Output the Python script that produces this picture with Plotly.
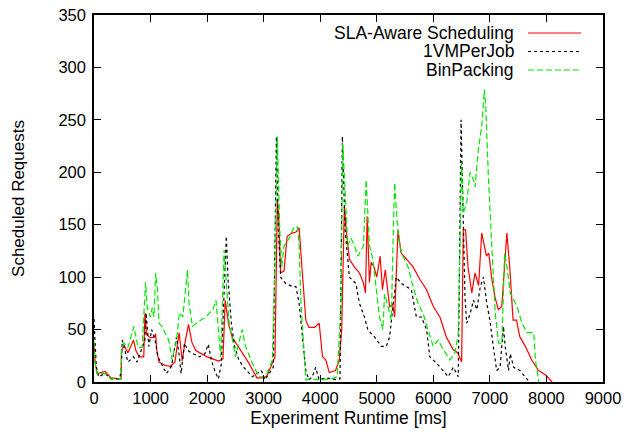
import plotly.graph_objects as go

# SLA-Aware Scheduling
sla_x = [0, 20, 60, 195, 230, 300, 450, 480, 486, 530, 600, 700, 740, 800, 880, 900, 930, 1000, 1070, 1090,
         1110, 1150, 1250, 1350, 1430, 1505, 1560, 1600, 1671, 1730, 1800, 1900, 2000, 2100, 2200, 2280, 2320,
         2380, 2450, 2560, 2738, 2880, 3000, 3060, 3150, 3200, 3242, 3270, 3300, 3360, 3415, 3500, 3570, 3627,
         3680, 3745, 3800, 3900, 3982, 4040, 4100, 4160, 4270, 4338, 4380, 4427, 4460, 4516, 4600, 4693, 4760,
         4800, 4830, 4870, 4900, 4950, 5000, 5060, 5100, 5150, 5227, 5280, 5316, 5375, 5430, 5520, 5640, 5760,
         5880, 6000, 6116, 6230, 6350, 6430, 6500, 6530, 6570, 6613, 6680, 6738, 6800, 6856, 6900, 6940, 6980,
         7035, 7090, 7150, 7210, 7260, 7300, 7350, 7410, 7470, 7530, 7627, 7740, 7860, 7980, 8100]
sla_y = [37, 18, 8, 10, 8, 4, 3, 3, 30, 35, 28, 40, 30, 24, 24, 66, 45, 42, 43, 46,
         30, 19, 16, 15, 19, 47, 20, 35, 55, 38, 30, 27, 24, 22, 20, 22, 78,
         55, 42, 33, 18, 4, 4, 6, 18, 24, 174, 152, 104, 106, 139, 142, 143, 147,
         107, 59, 52, 52, 56, 24, 21, 9, 11, 21, 50, 168, 145, 117, 110, 104, 95,
         85, 158, 95, 114, 110, 100, 120, 88, 107, 72, 74, 62, 145, 123, 117, 110, 98,
         88, 72, 62, 43, 31, 28, 19, 145, 145, 110, 85, 104, 92, 142, 130, 120, 123,
         98, 81, 69, 72, 117, 142, 110, 59, 59, 43, 34, 21, 11, 7, 0]

# 1VMPerJob
vm_x = [0, 20, 40, 80, 195, 300, 450, 480, 500, 600, 700, 760, 900, 920, 970, 1020, 1080, 1130, 1200, 1280,
        1370, 1460, 1510, 1540, 1600, 1660, 1750, 1870, 1960, 2020, 2080, 2140, 2200, 2250, 2340, 2370, 2430,
        2490, 2560, 2650, 2800, 2960, 3020, 3170, 3225, 3260, 3300, 3390, 3510, 3570, 3627, 3690, 3745, 3800,
        3860, 3920, 3980, 4100, 4300, 4350, 4392, 4440, 4480, 4516, 4630, 4693, 4782, 4840, 4960, 5080, 5168,
        5227, 5286, 5345, 5434, 5523, 5612, 5700, 5790, 5880, 5938, 6057, 6175, 6264, 6353, 6441, 6490, 6520,
        6545, 6560, 6590, 6650, 6710, 6770, 6830, 6886, 6945, 7000, 7060, 7120, 7180, 7240, 7270, 7330, 7360,
        7420, 7530, 7620, 7700]
vm_y = [60, 42, 15, 5, 8, 3, 3, 10, 40, 19, 24, 19, 40, 66, 34, 50, 40, 24, 17, 8,
        15, 43, 24, 8, 37, 30, 27, 24, 27, 36, 20, 10, 3, 17, 139, 98, 55,
        33, 21, 14, 5, 11, 2, 14, 234, 145, 100, 94, 91, 91, 75, 43, 11, 2,
        5, 14, 2, 4, 2, 3, 234, 145, 120, 100, 94, 75, 62, 50, 43, 34, 34,
        43, 72, 100, 94, 91, 88, 62, 62, 50, 24, 18, 11, 5, 14, 5, 250, 177,
        130, 81, 56, 65, 78, 69, 91, 100, 75, 59, 34, 11, 14, 53, 34, 11, 27,
        14, 11, 5, 0]

# BinPacking
bp_x = [0, 20, 50, 195, 300, 480, 486, 530, 600, 705, 780, 850, 912, 940, 1000, 1030, 1060, 1090, 1120, 1150,
        1200, 1260, 1320, 1380, 1460, 1510, 1570, 1653, 1680, 1740, 1860, 1980, 2100, 2157, 2210, 2240, 2300,
        2330, 2390, 2450, 2500, 2560, 2620, 2679, 2797, 2916, 3035, 3153, 3200, 3242, 3284, 3320, 3360, 3450,
        3538, 3597, 3627, 3657, 3716, 3745, 3800, 4000, 4200, 4300, 4368, 4397, 4445, 4486, 4545, 4605, 4664,
        4723, 4765, 4812, 4842, 4871, 4930, 4990, 5049, 5108, 5138, 5197, 5257, 5286, 5316, 5357, 5405, 5464,
        5553, 5641, 5730, 5820, 5908, 5997, 6086, 6175, 6294, 6383, 6441, 6471, 6500, 6530, 6590, 6649, 6708,
        6738, 6796, 6856, 6903, 6927, 6975, 7035, 7094, 7153, 7212, 7260, 7302, 7360, 7420, 7480, 7568, 7657,
        7775, 7805, 7863]
bp_y = [38, 18, 8, 8, 3, 3, 30, 37, 33, 53, 33, 33, 95, 71, 62, 71, 62, 104, 90, 56,
        53, 46, 40, 21, 40, 66, 62, 107, 75, 53, 58, 62, 69, 78, 41, 24, 126,
        100, 55, 40, 24, 37, 50, 34, 18, 5, 5, 21, 114, 234, 145, 110, 130, 137,
        148, 148, 130, 78, 18, 2, 3, 2, 3, 5, 78, 228, 177, 130, 137, 130, 120,
        126, 130, 193, 158, 130, 117, 88, 62, 50, 84, 72, 59, 130, 190, 155, 130, 120,
        110, 91, 75, 65, 50, 34, 40, 31, 21, 28, 46, 140, 209, 161, 171, 200, 193,
        186, 222, 244, 279, 263, 193, 129, 66, 37, 37, 123, 110, 85, 78, 72, 56, 47,
        47, 21, 0]

x_ticks = [0, 1000, 2000, 3000, 4000, 5000, 6000, 7000, 8000, 9000]
y_ticks = [0, 50, 100, 150, 200, 250, 300, 350]

names = ["SLA-Aware Scheduling", "1VMPerJob", "BinPacking"]
colors = ["#ff0000", "#000000", "#00e600"]
dashes = ["solid", "3px,3px", "6px,3px"]

FONT = "Liberation Sans, Arial, Helvetica, sans-serif"

fig = go.Figure()
for xs, ys, n, c, d in zip([sla_x, vm_x, bp_x], [sla_y, vm_y, bp_y], names, colors, dashes):
    fig.add_trace(go.Scatter(x=xs, y=ys, mode="lines", name=n,
                             line=dict(color=c, width=1.2, dash=d), showlegend=False))

axis_common = dict(showline=True, linecolor="black", linewidth=1.5, mirror="ticks",
                   ticks="inside", ticklen=7, tickwidth=1, tickcolor="black",
                   showgrid=False, zeroline=False, automargin=False,
                   tickfont=dict(family=FONT, size=16.5, color="black"))

fig.update_xaxes(range=[0, 9000], tickvals=x_ticks, ticktext=[str(v) for v in x_ticks],
                 title=dict(text="Experiment Runtime [ms]", font=dict(family=FONT, size=17.5, color="black"),
                            standoff=6),
                 **axis_common)
fig.update_yaxes(range=[0, 350], tickvals=y_ticks, ticktext=[str(v) for v in y_ticks],
                 ticklabelstandoff=3,
                 title=dict(text="Scheduled Requests", font=dict(family=FONT, size=17, color="black"),
                            standoff=29),
                 **axis_common)

# gnuplot-style legend (text right-aligned, sample line to the right)
L, R, T, B = 94, 25, 15, 59
W, H = 628 - L - R, 441 - T - B
def px_x(p):
    return (p - L) / W
def px_y(p):
    return 1 - (p - T) / H

legend_rows = [33, 51.5, 70]
for n, c, d, py in zip(names, colors, dashes, legend_rows):
    fig.add_annotation(x=px_x(515), y=px_y(py), xref="paper", yref="paper", text=n,
                       showarrow=False, xanchor="right", yanchor="middle", borderpad=0,
                       font=dict(family=FONT, size=17.5, color="black"))
    fig.add_shape(type="line", xref="paper", yref="paper", x0=px_x(528), x1=px_x(581),
                  y0=px_y(py), y1=px_y(py), line=dict(color=c, width=1.2, dash=d))

fig.update_layout(width=628, height=441, margin=dict(l=L, r=R, t=T, b=B),
                  paper_bgcolor="white", plot_bgcolor="white",
                  font=dict(family=FONT, size=17, color="black"))

fig.write_html("out.html", config={"displayModeBar": False},
               post_script="document.body.style.margin='0';document.body.style.padding='0';")
